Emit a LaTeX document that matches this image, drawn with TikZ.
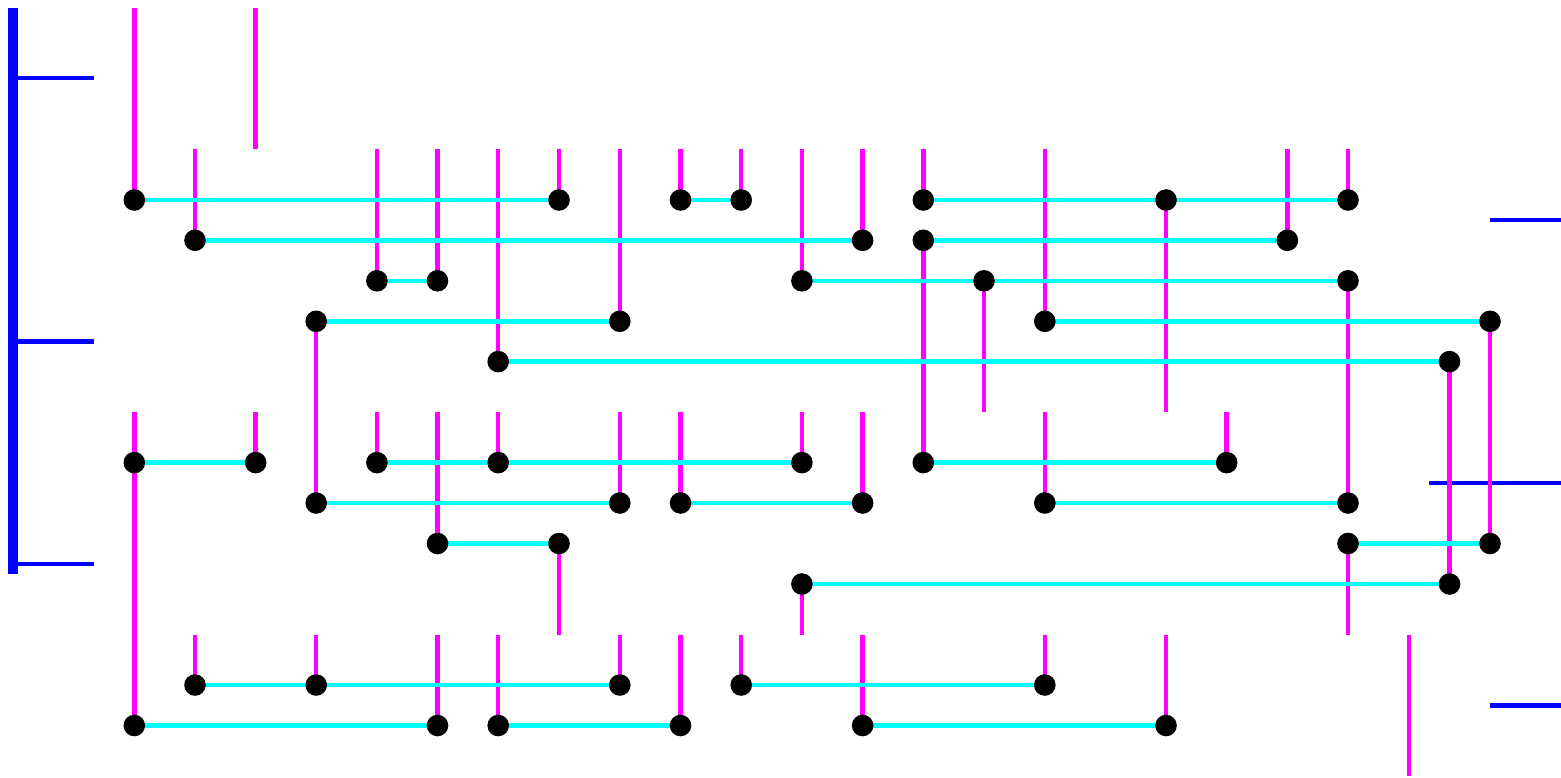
\documentclass[tikz,border=0pt]{standalone}
\pgfdeclarelayer{lblue}\pgfdeclarelayer{lmag}\pgfdeclarelayer{lcyan}
\pgfsetlayers{lblue,lmag,lcyan,main}
\tikzset{
  dotn/.style={circle,fill=black,draw=none,minimum size=21.6pt,inner sep=0pt},
  magline/.style={draw={rgb,255:red,255;green,0;blue,255},line width=4.5pt},
  cyanline/.style={draw={rgb,255:red,0;green,255;blue,255},line width=4.5pt},
  blueline/.style={draw={rgb,255:red,0;green,0;blue,255},line width=4.5pt},
  bluebar/.style={draw={rgb,255:red,0;green,0;blue,255},line width=10.5pt},
}
% \D{name}{x}{y}: a dot; \T{name}{x}{y}: a free end
\newcommand{\D}[3]{\node[dotn] (#1) at (#2,#3) {};}
\newcommand{\T}[3]{\coordinate (#1) at (#2,#3);}
\newcommand{\M}[2]{\begin{pgfonlayer}{lmag}\draw[magline] (#1.center) -- (#2.center);\end{pgfonlayer}}
\newcommand{\C}[2]{\begin{pgfonlayer}{lcyan}\draw[cyanline] (#1.center) -- (#2.center);\end{pgfonlayer}}
\begin{document}
\begin{tikzpicture}[x=1pt,y=-1pt]
\useasboundingbox (0,0) rectangle (1561,778);
% dots, row 200
\D{a1}{134.3}{200}\D{a2}{559}{200}\D{a3}{680.5}{200}\D{a4}{741.2}{200}\D{a5}{923.3}{200}\D{a6}{1166}{200}\D{a7}{1348}{200}
% row 240
\D{b1}{195}{240.3}\D{b2}{862.6}{240.3}\D{b3}{923.3}{240.3}\D{b4}{1287.4}{240.3}
% row 281
\D{c1}{376.9}{280.8}\D{c2}{437.5}{280.8}\D{c3}{801.9}{280.8}\D{c4}{984}{280.8}\D{c5}{1348}{280.8}
% row 321
\D{e1}{316.2}{321.3}\D{e2}{619.8}{321.3}\D{e3}{1044.8}{321.3}\D{e4}{1490}{321.3}
% row 361
\D{f1}{498.2}{361.6}\D{f2}{1449.5}{361.6}
% row 462
\D{g1}{134.3}{462.6}\D{g2}{255.7}{462.6}\D{g3}{376.9}{462.6}\D{g4}{498.2}{462.6}\D{g5}{801.9}{462.6}\D{g6}{923.3}{462.6}\D{g7}{1226.7}{462.6}
% row 503
\D{h1}{316.2}{503}\D{h2}{619.8}{503}\D{h3}{680.5}{503}\D{h4}{862.6}{503}\D{h5}{1044.8}{503}\D{h6}{1348}{503}
% row 543
\D{i1}{437.5}{543.5}\D{i2}{559}{543.5}\D{i3}{1348}{543.5}\D{i4}{1490}{543.5}
% row 584
\D{j1}{801.9}{584}\D{j2}{1449.5}{584}
% row 685
\D{k1}{195}{685}\D{k2}{316.2}{685}\D{k3}{619.8}{685}\D{k4}{741.2}{685}\D{k5}{1044.8}{685}
% row 725
\D{l1}{134.3}{725.5}\D{l2}{437.5}{725.5}\D{l3}{498.2}{725.5}\D{l4}{680.5}{725.5}\D{l5}{862.6}{725.5}\D{l6}{1166}{725.5}
% free ends
\T{t1}{134.3}{8}\T{t2}{255.7}{8}\T{t3}{255.7}{149}
\T{p195}{195}{149}\T{p377}{376.9}{149}\T{p437}{437.5}{149}\T{p498}{498.2}{149}\T{p559}{559}{149}\T{p620}{619.8}{149}
\T{p680}{680.5}{149}\T{p741}{741.2}{149}\T{p802}{801.9}{149}\T{p863}{862.6}{149}\T{p923}{923.3}{149}\T{p1045}{1044.8}{149}\T{p1287}{1287.4}{149}\T{p1348}{1348}{149}
\T{q984}{984}{412}\T{q1166}{1166}{412}
\T{q134}{134.3}{412}\T{q255}{255.7}{412}\T{q377}{376.9}{412}\T{q437}{437.5}{412}\T{q498}{498.2}{412}\T{q620}{619.8}{412}\T{q680}{680.5}{412}\T{q802}{801.9}{412}\T{q863}{862.6}{412}\T{q1045}{1044.8}{412}\T{q1227}{1226.7}{412}
\T{r195}{195}{635}\T{r316}{316.2}{635}\T{r437}{437.5}{635}\T{r498}{498.2}{635}\T{r559}{559}{635}\T{r620}{619.8}{635}\T{r680}{680.5}{635}\T{r741}{741.2}{635}\T{r802}{801.9}{635}\T{r863}{862.6}{635}\T{r1045}{1044.8}{635}\T{r1166}{1166}{635}\T{r1348}{1348}{635}\T{r1409}{1409}{635}
\T{s1409}{1409}{776}
% blue
\T{ba}{13}{8}\T{bb}{13}{574}
\T{u1a}{13}{78}\T{u1b}{94}{78}\T{u2a}{13}{341.4}\T{u2b}{94}{341.4}\T{u3a}{13}{564}\T{u3b}{94}{564}
\T{v1a}{1490}{220}\T{v1b}{1561}{220}\T{v2a}{1429}{483}\T{v2b}{1561}{483}\T{v3a}{1490}{705.5}\T{v3b}{1561}{705.5}
\begin{pgfonlayer}{lblue}
\draw[bluebar] (ba) -- (bb);
\draw[blueline] (u1a) -- (u1b);
\draw[blueline] (u2a) -- (u2b);
\draw[blueline] (u3a) -- (u3b);
\draw[blueline] (v1a) -- (v1b);
\draw[blueline] (v2a) -- (v2b);
\draw[blueline] (v3a) -- (v3b);
\end{pgfonlayer}
% magenta
\M{t1}{a1}\M{t2}{t3}
\M{p195}{b1}\M{p377}{c1}\M{p437}{c2}\M{p498}{f1}\M{p559}{a2}\M{p620}{e2}\M{p680}{a3}\M{p741}{a4}
\M{p802}{c3}\M{p863}{b2}\M{p923}{a5}\M{p1045}{e3}\M{p1287}{b4}\M{p1348}{a7}
\M{b3}{g6}\M{a6}{q1166}\M{c4}{q984}\M{c5}{h6}\M{e1}{h1}\M{e4}{i4}\M{f2}{j2}
\M{q134}{l1}\M{q255}{g2}\M{q377}{g3}\M{q437}{i1}\M{q498}{g4}\M{q620}{h2}\M{q680}{h3}\M{q802}{g5}\M{q863}{h4}\M{q1045}{h5}\M{q1227}{g7}
\M{i2}{r559}\M{i3}{r1348}\M{j1}{r802}
\M{r195}{k1}\M{r316}{k2}\M{r437}{l2}\M{r498}{l3}\M{r620}{k3}\M{r680}{l4}\M{r741}{k4}\M{r863}{l5}\M{r1045}{k5}\M{r1166}{l6}\M{r1409}{s1409}
% cyan
\C{a1}{a2}\C{a3}{a4}\C{a5}{a6}\C{a6}{a7}
\C{b1}{b2}\C{b3}{b4}
\C{c1}{c2}\C{c3}{c4}\C{c4}{c5}
\C{e1}{e2}\C{e3}{e4}
\C{f1}{f2}
\C{g1}{g2}\C{g3}{g4}\C{g4}{g5}\C{g6}{g7}
\C{h1}{h2}\C{h3}{h4}\C{h5}{h6}
\C{i1}{i2}\C{i3}{i4}
\C{j1}{j2}
\C{k1}{k2}\C{k2}{k3}\C{k4}{k5}
\C{l1}{l2}\C{l3}{l4}\C{l5}{l6}
\end{tikzpicture}
\end{document}
